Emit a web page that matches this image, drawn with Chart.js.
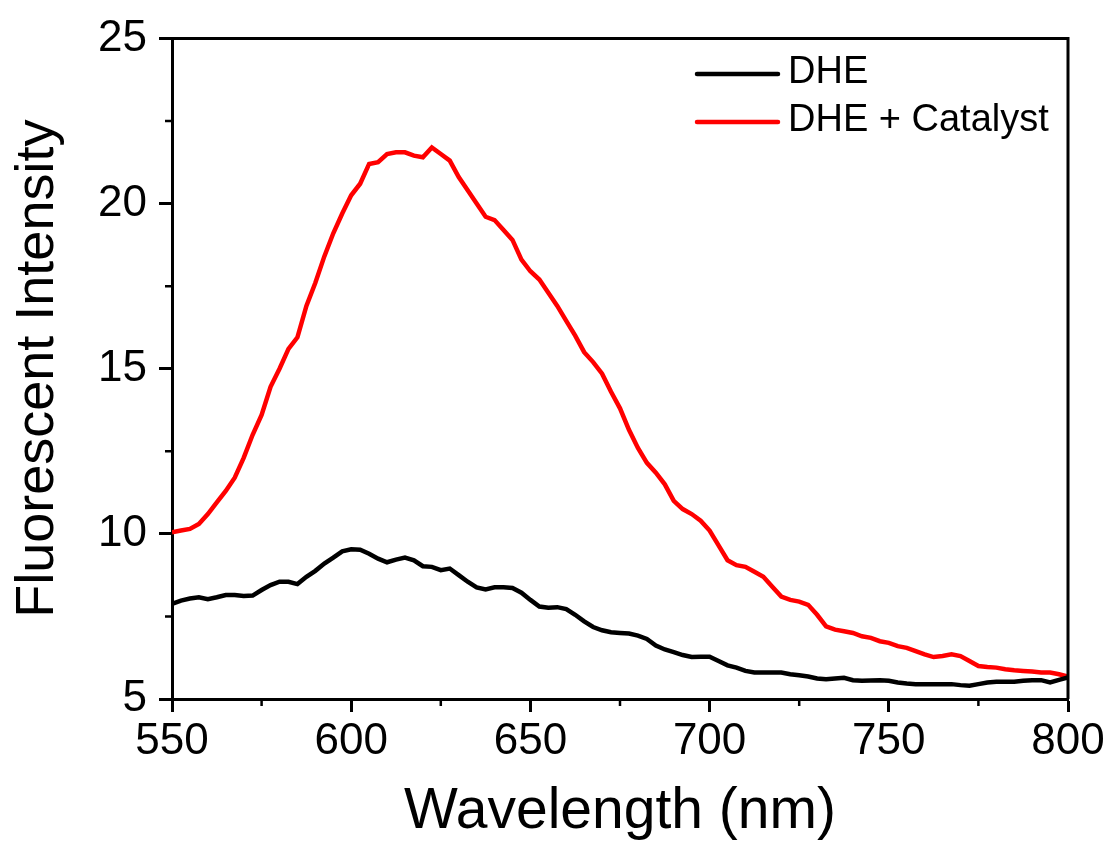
<!DOCTYPE html>
<html lang="en">
<head>
  <meta charset="UTF-8">
  <title>Fluorescent Intensity vs Wavelength</title>
  <script src="https://cdn.jsdelivr.net/npm/chart.js"></script>
  <style>
    body {
      margin: 0;
      background: #fff;
    }
    canvas {
      display: block;
    }
  </style>
</head>
<body>

  <canvas id="spectrum" width="1109" height="852"></canvas>

  <script>
    // wavelength grid, 2.5 nm step
    const wavelengths = [
      550, 552.5, 555, 557.5, 560, 562.5, 565, 567.5, 570, 572.5,
      575, 577.5, 580, 582.5, 585, 587.5, 590, 592.5, 595, 597.5,
      600, 602.5, 605, 607.5, 610, 612.5, 615, 617.5, 620, 622.5,
      625, 627.5, 630, 632.5, 635, 637.5, 640, 642.5, 645, 647.5,
      650, 652.5, 655, 657.5, 660, 662.5, 665, 667.5, 670, 672.5,
      675, 677.5, 680, 682.5, 685, 687.5, 690, 692.5, 695, 697.5,
      700, 702.5, 705, 707.5, 710, 712.5, 715, 717.5, 720, 722.5,
      725, 727.5, 730, 732.5, 735, 737.5, 740, 742.5, 745, 747.5,
      750, 752.5, 755, 757.5, 760, 762.5, 765, 767.5, 770, 772.5,
      775, 777.5, 780, 782.5, 785, 787.5, 790, 792.5, 795, 797.5,
      800
    ];

    const dhe = [
      7.88, 7.98, 8.04, 8.08, 8.02, 8.08, 8.15, 8.15, 8.12, 8.13,
      8.30, 8.45, 8.55, 8.55, 8.48, 8.70, 8.88, 9.10, 9.28, 9.47,
      9.53, 9.52, 9.40, 9.25, 9.14, 9.22, 9.28, 9.20, 9.02, 9.00,
      8.90, 8.95, 8.75, 8.55, 8.38, 8.32, 8.38, 8.38, 8.36, 8.22,
      8.00, 7.80, 7.76, 7.78, 7.72, 7.55, 7.35, 7.18, 7.08, 7.02,
      7.00, 6.98, 6.92, 6.82, 6.62, 6.50, 6.42, 6.33, 6.27, 6.28,
      6.28, 6.15, 6.02, 5.95, 5.85, 5.80, 5.80, 5.80, 5.80, 5.75,
      5.72, 5.68, 5.62, 5.60, 5.62, 5.64, 5.57, 5.55, 5.56, 5.57,
      5.55, 5.50, 5.47, 5.45, 5.45, 5.45, 5.45, 5.45, 5.42, 5.40,
      5.45, 5.50, 5.52, 5.52, 5.52, 5.55, 5.57, 5.57, 5.50, 5.58,
      5.65
    ];

    const dheCatalyst = [
      10.05, 10.10, 10.15, 10.30, 10.60, 10.95, 11.30, 11.70, 12.30, 13.00,
      13.60, 14.45, 15.00, 15.60, 15.95, 16.90, 17.60, 18.40, 19.10, 19.70,
      20.25, 20.60, 21.20, 21.25, 21.50, 21.55, 21.55, 21.45, 21.40, 21.70,
      21.50, 21.30, 20.80, 20.40, 20.00, 19.60, 19.50, 19.20, 18.90, 18.30,
      17.95, 17.70, 17.30, 16.90, 16.45, 16.00, 15.50, 15.20, 14.85, 14.30,
      13.80, 13.15, 12.60, 12.15, 11.85, 11.50, 11.00, 10.75, 10.60, 10.40,
      10.10, 9.65, 9.20, 9.05, 9.00, 8.85, 8.70, 8.40, 8.10, 8.00,
      7.95, 7.85, 7.55, 7.20, 7.10, 7.05, 7.00, 6.90, 6.85, 6.75,
      6.70, 6.60, 6.55, 6.45, 6.35, 6.27, 6.30, 6.35, 6.30, 6.15,
      6.00, 5.97, 5.95, 5.90, 5.87, 5.85, 5.83, 5.80, 5.80, 5.75,
      5.68
    ];

    const seriesLabels = ['DHE', 'DHE + Catalyst'];
    const xMinorTicks = [575, 625, 675, 725, 775];
    const yMinorTicks = [7.5, 12.5, 17.5, 22.5];

    const font = "'Liberation Sans', Arial, sans-serif";

    const toPoints = (ys) => wavelengths.map((x, i) => ({ x: x, y: ys[i] }));

    // frame on top/right, minor ticks, and the legend inside the plot
    const framePlugin = {
      id: 'frame',
      afterDraw(chart) {
        const { ctx, chartArea: a, scales } = chart;
        ctx.save();
        ctx.strokeStyle = '#000';
        ctx.lineWidth = 3;
        ctx.beginPath();
        ctx.moveTo(a.left, a.top);
        ctx.lineTo(a.right, a.top);
        ctx.lineTo(a.right, a.bottom);
        ctx.stroke();

        ctx.lineWidth = 2.5;
        ctx.beginPath();
        xMinorTicks.forEach(v => {
          const px = scales.x.getPixelForValue(v);
          ctx.moveTo(px, a.bottom);
          ctx.lineTo(px, a.bottom + 7);
        });
        yMinorTicks.forEach(v => {
          const py = scales.y.getPixelForValue(v);
          ctx.moveTo(a.left, py);
          ctx.lineTo(a.left - 7, py);
        });
        ctx.stroke();

        // legend
        ctx.font = '38px ' + font;
        ctx.textBaseline = 'middle';
        ctx.textAlign = 'left';
        chart.data.datasets.forEach((ds, i) => {
          const y = a.top + 35.5 + i * 48;
          const x0 = a.right - 371;
          ctx.strokeStyle = ds.borderColor;
          ctx.lineWidth = 4.5;
          ctx.lineCap = 'round';
          ctx.beginPath();
          ctx.moveTo(x0, y);
          ctx.lineTo(x0 + 81, y);
          ctx.stroke();
          ctx.fillStyle = '#000';
          ctx.fillText(ds.label, x0 + 91, y - 1);
        });
        ctx.restore();
      }
    };

    const ctx = document.getElementById('spectrum').getContext('2d');

    new Chart(ctx, {
      type: 'line',
      data: {
        datasets: [
          {
            label: seriesLabels[0],
            data: toPoints(dhe),
            borderColor: '#000000',
            backgroundColor: '#000000',
            borderWidth: 4.5,
            pointRadius: 0,
            tension: 0
          },
          {
            label: seriesLabels[1],
            data: toPoints(dheCatalyst),
            borderColor: '#ff0000',
            backgroundColor: '#ff0000',
            borderWidth: 4.5,
            pointRadius: 0,
            tension: 0
          }
        ]
      },
      options: {
        responsive: false,
        devicePixelRatio: 1,
        animation: false,
        layout: {
          padding: { top: 35, right: 41, left: 0, bottom: 0 }
        },
        plugins: {
          legend: { display: false },
          tooltip: { enabled: false }
        },
        scales: {
          x: {
            type: 'linear',
            min: 550,
            max: 800,
            afterFit(scale) { scale.height = 153; },
            ticks: {
              stepSize: 50,
              padding: 3,
              color: '#000',
              font: { family: font, size: 44 }
            },
            grid: {
              drawOnChartArea: false,
              tickLength: 13,
              tickWidth: 3,
              tickColor: '#000'
            },
            border: { display: true, color: '#000', width: 3 },
            title: {
              display: true,
              text: 'Wavelength (nm)',
              color: '#000',
              font: { family: font, size: 57 },
              padding: { top: 0, bottom: 6 }
            }
          },
          y: {
            min: 5,
            max: 25,
            afterFit(scale) { scale.width = 172; },
            ticks: {
              stepSize: 5,
              padding: 12,
              color: '#000',
              font: { family: font, size: 44 }
            },
            grid: {
              drawOnChartArea: false,
              tickLength: 13,
              tickWidth: 3,
              tickColor: '#000'
            },
            border: { display: true, color: '#000', width: 3 },
            title: {
              display: true,
              text: 'Fluorescent Intensity',
              color: '#000',
              font: { family: font, size: 54 },
              padding: { top: 6, bottom: 0 }
            }
          }
        }
      },
      plugins: [framePlugin]
    });
  </script>

</body>
</html>
